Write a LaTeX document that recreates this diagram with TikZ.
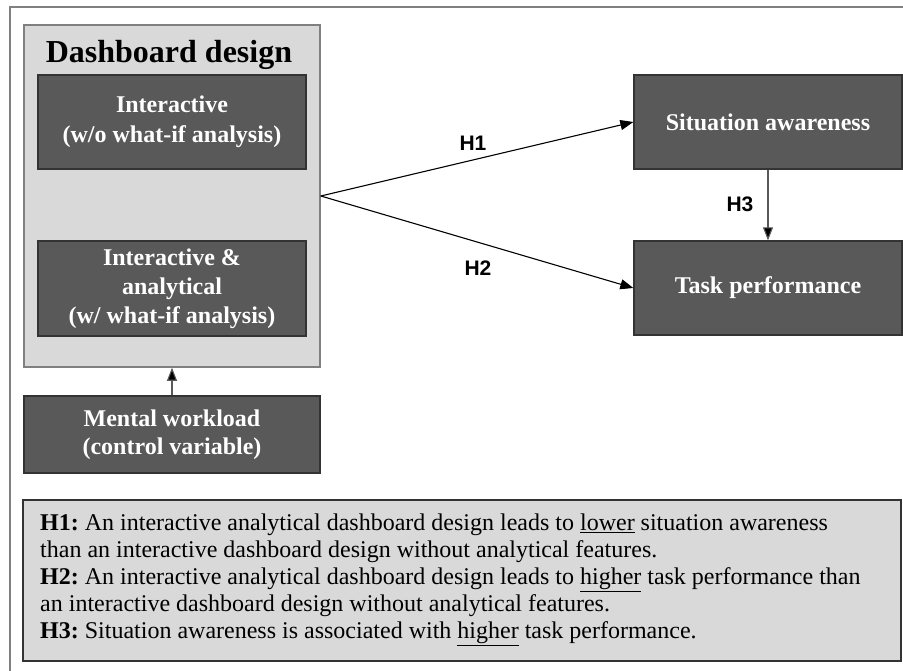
\documentclass[tikz,border=0pt]{standalone}
\usepackage{fontspec}
\setmainfont{Liberation Serif}
\newfontfamily\arialfont{Liberation Sans}
\usetikzlibrary{arrows.meta}
\definecolor{frameg}{HTML}{808080}
\definecolor{lightg}{HTML}{D9D9D9}
\definecolor{darkg}{HTML}{595959}
\definecolor{darkb}{HTML}{333333}
\tikzset{
  darkbox/.style={draw=darkb, line width=1.3pt, fill=darkg, text=white, inner sep=0pt,
    font=\bfseries\fontsize{24}{30}\selectfont, align=center},
  lightbox/.style={draw=frameg, line width=1.6pt, fill=lightg, inner sep=0pt},
  hypbox/.style={draw=darkb, line width=1.3pt, fill=lightg, inner sep=0pt},
  hlabel/.style={font=\arialfont\bfseries\fontsize{21}{24}\selectfont, inner sep=0pt},
  conn/.style={line width=1.1pt, -{Triangle[length=13pt,width=10pt]}},
  gconn/.style={line width=1.1pt, draw=darkg, -{Triangle[length=13pt,width=10pt,fill=black]}},
}
\begin{document}
\frenchspacing
\begin{tikzpicture}[x=1pt,y=-1pt]
\useasboundingbox (0,0) rectangle (903,671);
\fill[white] (0,0) rectangle (903,671);
\draw[frameg, line width=2pt] (903,7.5) -- (9.5,7.5) -- (9.5,671);

\node[lightbox, minimum width=296pt, minimum height=342pt] (dash) at (172,196) {};
\node[anchor=base, inner sep=0pt, font=\bfseries\fontsize{32}{36}\selectfont] (title) at (169,63) {Dashboard design};
\node[darkbox, minimum width=268pt, minimum height=94pt] (inter) at (172,122) {Interactive\\(w/o what-if analysis)};
\node[darkbox, minimum width=268pt, minimum height=95pt, font=\bfseries\fontsize{24}{29}\selectfont] (ia) at (172,288.5) {Interactive \&\\analytical\\(w/ what-if analysis)};
\node[darkbox, minimum width=296pt, minimum height=77pt, font=\bfseries\fontsize{24}{28}\selectfont] (mental) at (172,434.5) {Mental workload\\(control variable)};
\node[darkbox, minimum width=268pt, minimum height=94pt] (sa) at (768,122) {Situation awareness};
\node[darkbox, minimum width=268pt, minimum height=94pt] (tp) at (768,288) {Task performance};

\draw[conn] (dash.east) -- (sa.west);
\draw[conn] (dash.east) -- (tp.west);
\draw[gconn] (sa.south) -- (tp.north);
\draw[gconn] (mental.north) -- (dash.south);

\node[hlabel] (h1) at (473,143) {H1};
\node[hlabel] (h2) at (478,268) {H2};
\node[hlabel] (h3) at (740,204) {H3};

\node[hypbox, minimum width=878pt, minimum height=161pt] (hyp) at (462,580.5) {};
\node[anchor=west, inner sep=0pt, align=left, font=\fontsize{24}{27}\selectfont] (hyptext) at (40,580) {%
\textbf{H1:} An interactive analytical dashboard design leads to \underline{lower} situation awareness\\
than an interactive dashboard design without analytical features.\\
\textbf{H2:} An interactive analytical dashboard design leads to \underline{higher} task performance than\\
an interactive dashboard design without analytical features.\\
\textbf{H3:} Situation awareness is associated with \underline{higher} task performance.};
\end{tikzpicture}
\end{document}
